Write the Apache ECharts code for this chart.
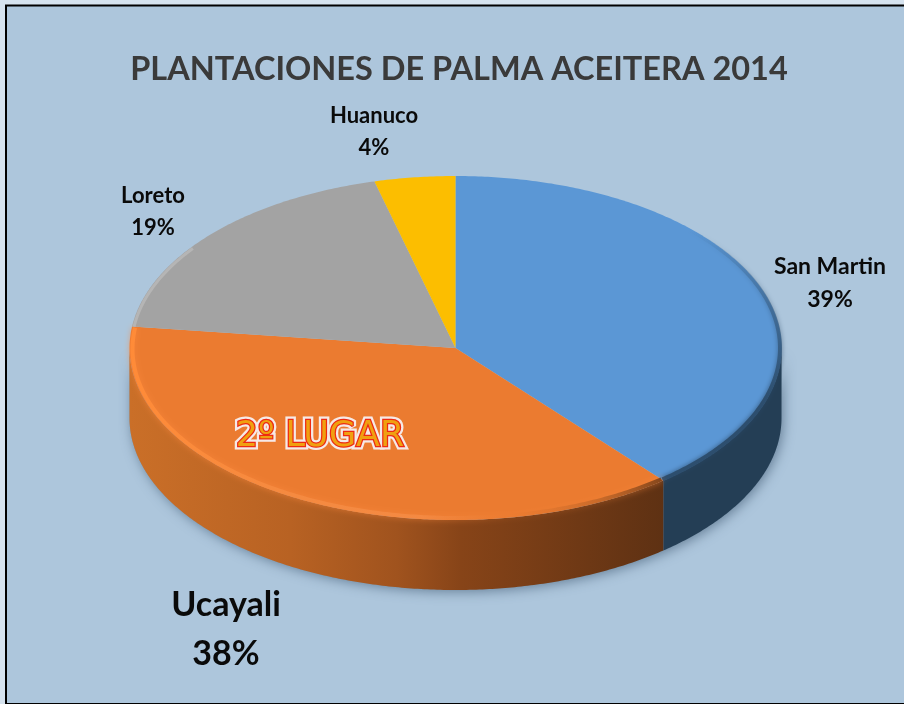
<!DOCTYPE html>
<html>
<head>
<meta charset="utf-8">
<style>
  html, body { margin: 0; padding: 0; background: #d6e3ef; overflow: hidden; }
  #main { width: 904px; height: 704px; }
</style>
<script src="https://cdn.jsdelivr.net/npm/echarts@6/dist/echarts.min.js"></script>
</head>
<body>
<div id="main"></div>
<script>
// data
var regiones = ['San Martin', 'Ucayali', 'Loreto', 'Huanuco'];
var valores = [39, 38, 19, 4];
var colores = ['#5b97d5', '#eb7b30', '#a3a3a3', '#fcbe00'];
var titulo = 'PLANTACIONES DE PALMA ACEITERA 2014';
var nota = '2º LUGAR';

// tilted pie geometry
var cx = 455.5, cy = 348, rx = 326, ry = 172, alto = 70;
var total = valores.reduce(function (a, b) { return a + b; }, 0);
var FONT = 'Lato, "Open Sans", sans-serif';

function inicio(i) {
  var s = 0;
  for (var k = 0; k < i; k++) s += valores[k];
  return s / total * Math.PI * 2;
}
function fin(i) { return inicio(i) + valores[i] / total * Math.PI * 2; }

// angle runs clockwise from 12 o'clock
function punto(t, dy, d) {
  d = d || 0;
  return [cx + (rx - d) * Math.sin(t), cy - (ry - d) * Math.cos(t) + (dy || 0)];
}
function arco(a, b, dy, d) {
  var pts = [], n = Math.max(2, Math.ceil((b - a) / 0.01));
  for (var i = 0; i <= n; i++) pts.push(punto(a + (b - a) * i / n, dy, d));
  return pts;
}
function grad(x0, x1, stops) {
  return new echarts.graphic.LinearGradient(x0, 0, x1, 0, stops, true);
}

// side wall only exists on the front half of the disc
function tramoPared(i) {
  var a = Math.max(inicio(i), Math.PI / 2), b = Math.min(fin(i), Math.PI * 1.5);
  return b > a ? [a, b] : null;
}

var paredFill = [
  '#243e55',
  grad(130, 664, [
    { offset: 0, color: '#ca6f28' },
    { offset: 0.3, color: '#b86223' },
    { offset: 0.5, color: '#a0531e' },
    { offset: 0.62, color: '#874418' },
    { offset: 1, color: '#5e3113' }
  ])
];

function renderSombra(params) {
  var i = params.dataIndex;
  if (i !== 0) return;
  var f = arco(Math.PI / 2, Math.PI * 1.5, alto);
  var pts = arco(Math.PI / 2, Math.PI * 1.5, 0).reverse().concat(f);
  return {
    type: 'polygon',
    shape: { points: pts },
    style: { fill: '#7f98ae', shadowBlur: 12, shadowColor: 'rgba(60,85,110,0.6)', shadowOffsetY: 2, shadowOffsetX: 2 }
  };
}

function renderPared(params) {
  var i = params.dataIndex, r = tramoPared(i);
  if (!r) return;
  var pts = arco(r[0], r[1], 0).concat(arco(r[0], r[1], alto).reverse());
  return { type: 'polygon', shape: { points: pts }, style: { fill: paredFill[i] } };
}

function renderTapa(params) {
  var i = params.dataIndex;
  var a = inicio(i), b = fin(i);
  return {
    type: 'polygon',
    shape: { points: [[cx, cy]].concat(arco(a, b, 0)) },
    style: { fill: colores[i] }
  };
}

// soft bevel along the rim of the top face
function renderBisel(params) {
  var i = params.dataIndex, a = inicio(i), b = fin(i), hijos = [];
  if (i === 0) {
    hijos.push({
      type: 'polyline',
      shape: { points: arco(0.7, b, 0, 1.5) },
      style: {
        fill: null,
        lineWidth: 4,
        shadowBlur: 5,
        shadowColor: 'rgba(40,70,100,0.8)',
        stroke: new echarts.graphic.LinearGradient(0, 230, 0, 400, [
          { offset: 0, color: 'rgba(52,88,122,0)' },
          { offset: 0.5, color: 'rgba(52,88,122,0.55)' },
          { offset: 1, color: 'rgba(45,78,110,1)' }
        ], true)
      }
    });
  }
  if (i === 1) {
    hijos.push({
      type: 'polyline',
      shape: { points: arco(a, b, 1, 3) },
      style: {
        fill: null, lineWidth: 4,
        shadowBlur: 6,
        shadowColor: 'rgba(250,135,60,0.8)',
        stroke: grad(130, 660, [
          { offset: 0, color: '#ff8b38' },
          { offset: 0.3, color: '#f58a40' },
          { offset: 0.55, color: 'rgba(245,140,70,0.8)' },
          { offset: 0.72, color: 'rgba(235,123,48,0.2)' },
          { offset: 0.88, color: 'rgba(150,80,30,0.4)' },
          { offset: 1, color: 'rgba(110,58,22,0.8)' }
        ])
      }
    });
  }
  if (i === 2) {
    hijos.push({
      type: 'polyline',
      shape: { points: arco(a, a + 0.5, 0, 2) },
      style: { fill: null, stroke: '#b5b5b5', lineWidth: 3 }
    });
  }
  return { type: 'group', children: hijos };
}

// label centre and font size per slice
var etiquetaPos = [[830, 283, 23], [226, 630, 34], [153, 212, 22], [374, 132, 22]];

function renderEtiqueta(params) {
  var i = params.dataIndex, p = etiquetaPos[i];
  return {
    type: 'text',
    x: p[0],
    y: p[1],
    style: {
      text: regiones[i] + '\n' + valores[i] + '%',
      font: '700 ' + p[2] + 'px ' + FONT,
      fill: '#0a0a0a',
      align: 'center',
      verticalAlign: 'middle',
      lineHeight: Math.round(p[2] * 1.45)
    }
  };
}

function capa(render, z) {
  return {
    type: 'custom',
    coordinateSystem: 'none',
    renderItem: render,
    data: valores,
    z: z,
    silent: true,
    animation: false,
    clip: false
  };
}

var notaBase = { text: nota, font: '400 35px "DejaVu Sans", sans-serif', align: 'center', verticalAlign: 'middle' };

var chart = echarts.init(document.getElementById('main'), null, { renderer: 'canvas' });
chart.setOption({
  animation: false,
  backgroundColor: '#d6e3ef',
  title: {
    text: titulo,
    left: 454,
    top: 48,
    textAlign: 'center',
    textStyle: { fontFamily: FONT, fontWeight: 700, fontSize: 32.5, color: '#3a3a3a' },
    z: 50
  },
  graphic: [
    {
      type: 'rect',
      z: -10,
      shape: { x: 6, y: 5.5, width: 920, height: 698.5 },
      style: { fill: '#adc6dc', stroke: '#000', lineWidth: 2 }
    },
    {
      type: 'text',
      z: 100,
      x: 320,
      y: 437,
      silent: true,
      style: Object.assign({}, notaBase, {
        fill: '#f6e9e6',
        stroke: '#f6e9e6',
        lineWidth: 7,
        shadowBlur: 3,
        shadowColor: 'rgba(70,30,5,0.85)',
        shadowOffsetX: 1,
        shadowOffsetY: 3
      })
    },
    {
      type: 'text',
      z: 101,
      x: 320,
      y: 437,
      silent: true,
      style: Object.assign({}, notaBase, { fill: '#f0a010', stroke: '#ee2a12', lineWidth: 2.5 })
    }
  ],
  series: [
    capa(renderSombra, 1),
    capa(renderPared, 2),
    capa(renderTapa, 3),
    capa(renderBisel, 4),
    capa(renderEtiqueta, 5)
  ]
});
</script>
</body>
</html>
